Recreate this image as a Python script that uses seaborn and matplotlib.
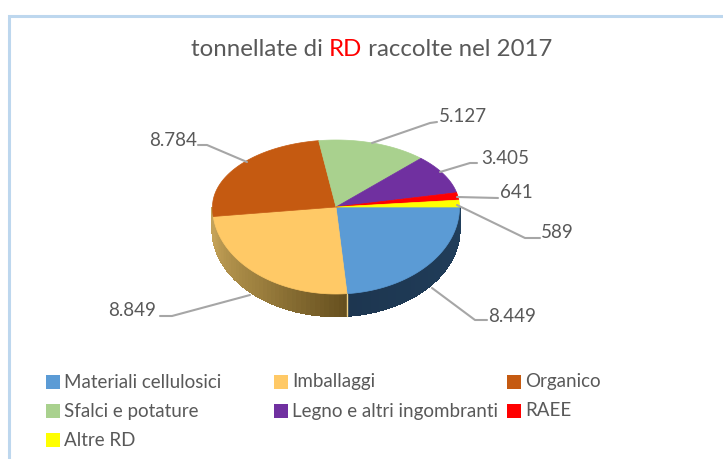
import numpy as np
import matplotlib
matplotlib.use("Agg")
import matplotlib.pyplot as plt
import seaborn as sns

categories = ["Materiali cellulosici", "Imballaggi", "Organico", "Sfalci e potature",
              "Legno e altri ingombranti", "RAEE", "Altre RD"]
values = [8449, 8849, 8784, 5127, 3405, 641, 589]
colors = ["#5B9BD5", "#FFC966", "#C55A11", "#A9D18E", "#7030A0", "#FF0000", "#FFFF00"]

# pie geometry, in pixels of the reference
CX, CY = 336, 207
RX, RY_TOP, RY_BOTTOM = 123.5, 67, 87
DEPTH = 22

# label position and leader line per slice
label_pos = [(512, 316), (132, 310), (173, 141), (463, 117), (505, 158), (516, 193), (557, 232)]
leaders = [
    [(432, 288), (475, 320), (487, 320)],
    [(250, 295), (172, 316), (160, 316)],
    [(247, 162), (207, 145), (198, 145)],
    [(372, 143), (430, 123), (437, 122)],
    [(440, 172), (470, 163), (477, 163)],
    [(457, 197), (498, 198)],
    [(457, 205), (525, 238), (540, 238)],
]
legend_cols = [46, 274, 507]
legend_rows = [382, 411, 440]
TEXT = "#595959"
FONT = "Lato"

sns.set_theme(style="white")
plt.rcParams["font.family"] = [FONT, "DejaVu Sans"]


def rim(theta):
    """Rim of the top face, the front half is stretched like the tilted original."""
    rad = np.radians(theta)
    ry = np.where(np.sin(rad) > 0, RY_TOP, RY_BOTTOM)
    return CX + RX * np.cos(rad), CY - ry * np.sin(rad)


fig = plt.figure(figsize=(7.23, 4.59), dpi=100)
ax = fig.add_axes([0, 0, 1, 1])
ax.set_xlim(0, 723)
ax.set_ylim(459, 0)
ax.axis("off")

# chart frame, only top and left are visible in the crop
ax.plot([9, 9, 723], [459, 16, 16], color="#BDD7EE", lw=2.2, solid_joinstyle="miter")

# slice angles, clockwise from 3 o'clock
ends = -np.cumsum(values) / sum(values) * 360
starts = np.concatenate([[0], ends[:-1]])

# side wall, only the front half shows
side_palettes = {
    0: ["#213F5C", "#1D3650"],
    1: ["#66501F", "#9C7F3E", "#C4A258"],
    2: ["#C4A258", "#C4A258"],
}
for i, pal in side_palettes.items():
    lo, hi = starts[i], max(ends[i], -180)
    steps = np.linspace(lo, hi, 41)
    shades = sns.blend_palette(pal, len(steps) - 1)
    for a, b, c in zip(steps[:-1], steps[1:], shades):
        xs, ys = rim(np.array([a, b]))
        ax.fill([xs[0], xs[1], xs[1], xs[0]],
                [ys[0], ys[1], ys[1] + DEPTH, ys[0] + DEPTH],
                facecolor=c, edgecolor=c, lw=1.0, antialiased=False)
    if i == 0:
        xs, ys = rim(np.array([hi]))
        ax.plot([xs[0], xs[0]], [ys[0], ys[0] + DEPTH], color="#F2D488", lw=1)

# top face
for s, e, c in zip(starts, ends, colors):
    xs, ys = rim(np.linspace(s, e, 120))
    ax.fill(np.r_[CX, xs], np.r_[CY, ys], facecolor=c, edgecolor=c, lw=0.5)

# leader lines and value labels
for v, pos, pts in zip(values, label_pos, leaders):
    px, py = zip(*pts)
    ax.plot(px, py, color="#A6A6A6", lw=1.5, solid_capstyle="round")
    ax.text(pos[0], pos[1], f"{v:,}".replace(",", "."), color=TEXT, fontsize=13.5,
            ha="center", va="center")

# title in three runs, "RD" is red
t1 = ax.text(191, 50, "tonnellate di ", color=TEXT, fontsize=17.3, ha="left", va="center")
t2 = ax.annotate("RD", xy=(1, 0), xycoords=t1, va="bottom", ha="left",
                 color="#FF0000", fontsize=17.3)
ax.annotate(" raccolte nel 2017", xy=(1, 0), xycoords=t2, va="bottom", ha="left",
            color=TEXT, fontsize=17.3)

# legend fills row by row, three per row
for i, (name, c) in enumerate(zip(categories, colors)):
    x = legend_cols[i % 3]
    y = legend_rows[i // 3]
    ax.scatter([x + 7], [y], marker="s", s=105, color=c, linewidths=0)
    ax.text(x + 18, y, name, color=TEXT, fontsize=13.5, ha="left", va="center")

fig.savefig("out.png", dpi=100)
